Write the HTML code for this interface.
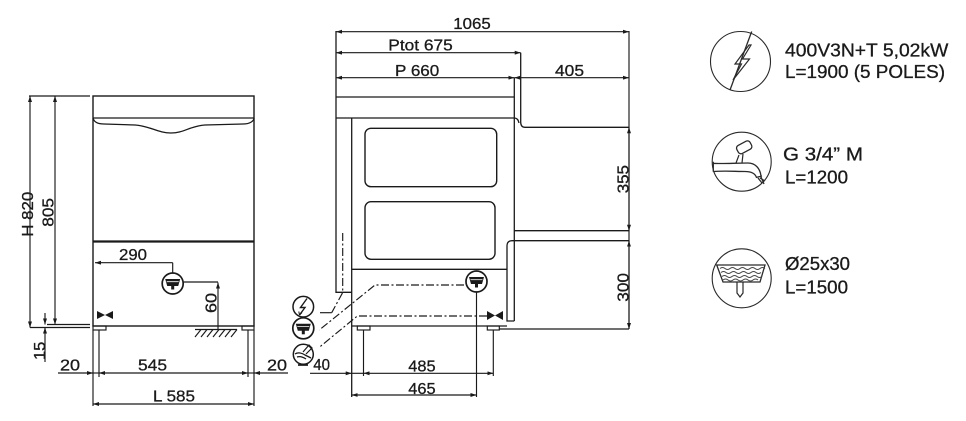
<!DOCTYPE html>
<html><head><meta charset="utf-8"><style>
html,body{margin:0;padding:0;background:#fff;}
svg{display:block;}
text{font-family:"Liberation Sans",Arial,sans-serif;fill:#1a1a1a;stroke:#1a1a1a;stroke-width:0.3;font-size:16px;}
</style></head><body>
<svg width="966" height="421" viewBox="0 0 966 421" xmlns="http://www.w3.org/2000/svg">
<defs>
<marker id="a" viewBox="0 0 6 4" refX="6" refY="2" markerWidth="6" markerHeight="4" markerUnits="userSpaceOnUse" orient="auto-start-reverse"><path d="M0,0 L6,2 L0,4 z" fill="#1a1a1a"/></marker>
<symbol id="dr" viewBox="-12 -12 24 24">
<circle cx="0" cy="0" r="10.5" fill="#fff" stroke="#1a1a1a" stroke-width="1.7"/>
<path d="M-7.5,-4.5 H7.5 L5.5,2.5 H-5.5 Z" fill="#1a1a1a"/>
<path d="M-6,-1.8 H6" stroke="#fff" stroke-width="0.8"/>
<rect x="-1.5" y="2" width="3" height="4" fill="#1a1a1a"/>
</symbol>
</defs>
<g stroke="#1a1a1a" fill="none" stroke-width="1.15">
<!-- LEFT VIEW -->
<rect x="93" y="96" width="161" height="230" stroke-width="1.4"/>
<line x1="93" y1="118" x2="254" y2="118" stroke-width="1.3"/>
<path d="M93,118 C94,122 98,124 104,124 L135,125 C150,126 158,133 171,133 C184,133 190,126 205,125 L243,124 C250,124 254,121 254,118" stroke-width="1.3"/>
<line x1="93" y1="241.5" x2="254" y2="241.5" stroke-width="2.2"/>
<line x1="172.7" y1="262.7" x2="95" y2="262.7" marker-end="url(#a)"/>
<line x1="172.7" y1="262.7" x2="172.7" y2="272.5"/>
<path d="M184,282 H218"/>
<line x1="218" y1="329" x2="218" y2="282.5" marker-end="url(#a)"/>
<line x1="195" y1="329.5" x2="237" y2="329.5"/>
<path d="M195,337 L201,329.5 M201,337 L207,329.5 M207,337 L213,329.5 M213,337 L219,329.5 M219,337 L225,329.5 M225,337 L231,329.5 M231,337 L237,329.5"/>
<path d="M97,311 L105,315 L97,319 Z M113,311 L105,315 L113,319 Z" fill="#1a1a1a" stroke="none"/>
<rect x="93" y="326" width="13" height="4"/>
<rect x="242" y="326" width="12" height="4"/>
<line x1="99" y1="330" x2="99" y2="377"/>
<line x1="248" y1="330" x2="248" y2="377"/>
<line x1="93" y1="330" x2="93" y2="406"/>
<line x1="254" y1="330" x2="254" y2="406"/>
<line x1="58" y1="373" x2="93" y2="373" marker-end="url(#a)"/>
<line x1="93" y1="373" x2="99" y2="373"/>
<line x1="99" y1="373" x2="248" y2="373" marker-start="url(#a)" marker-end="url(#a)"/>
<line x1="288" y1="373" x2="254" y2="373" marker-end="url(#a)"/>
<line x1="248" y1="373" x2="254" y2="373"/>
<line x1="93" y1="404" x2="254" y2="404" marker-start="url(#a)" marker-end="url(#a)"/>
<line x1="30" y1="96" x2="30" y2="327.5" marker-start="url(#a)" marker-end="url(#a)"/>
<line x1="55" y1="96" x2="55" y2="324.5" marker-start="url(#a)" marker-end="url(#a)"/>
<line x1="29" y1="96" x2="90" y2="96"/>
<line x1="30" y1="327.5" x2="90" y2="327.5"/>
<line x1="47" y1="324.5" x2="90" y2="324.5"/>
<line x1="45" y1="313" x2="45" y2="324.5" marker-end="url(#a)"/>
<line x1="45" y1="362" x2="45" y2="327.5" marker-end="url(#a)"/>

<!-- MIDDLE VIEW -->
<path d="M336,31 V292.3 H351.7" stroke-width="1.3"/>
<line x1="351.7" y1="118" x2="351.7" y2="397" stroke-width="1.3"/>
<line x1="336" y1="97" x2="514.3" y2="97" stroke-width="1.3"/>
<path d="M336,118 H514.3 Q518,118 519,123" stroke-width="1.3"/>
<path d="M520.7,52.7 V122 Q520.7,127.3 525,127.3 H629" stroke-width="1.3"/>
<line x1="514.3" y1="78" x2="514.3" y2="321" stroke-width="1.3"/>
<line x1="629" y1="31" x2="629" y2="329"/>
<line x1="514.3" y1="230.7" x2="629" y2="230.7" stroke-width="1.3"/>
<path d="M629,240.7 H512 Q507,240.7 507,246 V321 H514.3" stroke-width="1.3"/>
<line x1="351.7" y1="269.3" x2="507" y2="269.3" stroke-width="1.3"/>
<line x1="351.7" y1="326" x2="507" y2="326" stroke-width="1.3"/>
<line x1="499" y1="329" x2="629" y2="329"/>
<rect x="365" y="128.3" width="131.7" height="58.4" rx="6" stroke-width="1.4"/>
<rect x="365" y="201.7" width="130" height="57.6" rx="6" stroke-width="1.4"/>
<rect x="357.3" y="326" width="12.7" height="4"/>
<rect x="487.3" y="326" width="12" height="4"/>
<line x1="363.5" y1="330" x2="363.5" y2="376"/>
<line x1="493.3" y1="330" x2="493.3" y2="376"/>
<line x1="476.5" y1="292.5" x2="476.5" y2="397"/>
<line x1="310" y1="373.3" x2="351.7" y2="373.3" marker-end="url(#a)"/>
<line x1="351.7" y1="373.3" x2="363.5" y2="373.3"/>
<line x1="363.5" y1="373.3" x2="493.3" y2="373.3" marker-start="url(#a)" marker-end="url(#a)"/>
<line x1="351.7" y1="395" x2="476.5" y2="395" marker-start="url(#a)" marker-end="url(#a)"/>
<line x1="336" y1="31.7" x2="629" y2="31.7" marker-start="url(#a)" marker-end="url(#a)"/>
<line x1="336" y1="52.7" x2="520.7" y2="52.7" marker-start="url(#a)" marker-end="url(#a)"/>
<line x1="336" y1="77.7" x2="514.3" y2="77.7" marker-start="url(#a)" marker-end="url(#a)"/>
<line x1="514.3" y1="77.7" x2="629" y2="77.7" marker-start="url(#a)" marker-end="url(#a)"/>
<line x1="629" y1="127.3" x2="629" y2="230.7" marker-start="url(#a)" marker-end="url(#a)"/>
<line x1="629" y1="240.7" x2="629" y2="329" marker-start="url(#a)" marker-end="url(#a)"/>
<!-- dashed connection lines -->
<g stroke-dasharray="8 2.5 2 2.5">
<path d="M342.7,233 V292.5 L331.7,312.7"/>
<path d="M464,285 H375 L319.3,330"/>
<path d="M487,316 H357.3 L319.3,347.3"/>
</g>
<line x1="331.7" y1="312.7" x2="320" y2="312.7"/>
<path d="M487,311 L495,315.5 L487,320 Z M503,311 L495,315.5 L503,320 Z" fill="#1a1a1a" stroke="none"/>

<!-- small icons -->
<circle cx="303.3" cy="306.7" r="10.3" stroke-width="1.5"/>
<path d="M307,298.5 L300.5,307.5 L305,307.5 L299.5,315" stroke-width="1.4"/>
<path d="M299.5,315 L298.8,311.5 M299.5,315 L302,312.5" stroke-width="1"/>
<circle cx="303.3" cy="354.3" r="10" stroke-width="1.5"/>
<path d="M295,354 C298,352 302,353 305,355 L311,358 M297,357 C300,356 303,357 306,359" stroke-width="1.3"/>
<path d="M303,352 L309,345 L312,348 L306,354" stroke-width="1.2"/>
<line x1="298" y1="365" x2="308" y2="365" stroke-width="1.7"/>

<!-- LEGEND -->
<g stroke="#2a2a2a" stroke-width="1.1">
<circle cx="740.5" cy="61.5" r="30"/>
<line x1="751.7" y1="31.5" x2="730" y2="90" stroke-width="1.3"/>
<path d="M749,45 L735,64 L741.5,64 L733,80 L749.5,59 L742.5,59 L751,45 Z" stroke-width="1.2"/>
<circle cx="741.7" cy="161.7" r="29.5"/>
<path d="M713.3,161.7 V171.7 M713.3,163.3 C722,164 735,163 748,163 C755,163 760,168 761,176 M713.3,171.7 C722,170.5 735,171.5 745,171.5 C750,171.5 755,173 756.5,177.5 M756,177.5 L762,176" stroke-width="1.3"/>
<path d="M736,163 L739,155 M742,163 L743,154" stroke-width="1.2"/>
<rect x="737" y="143" width="15" height="9" rx="3" transform="rotate(-28 744 148)" stroke-width="1.3"/>
<path d="M758,178 L762,183 M760,178 L765,181 M761,177 L764,184" stroke-width="1.3"/>
<circle cx="741.7" cy="278.3" r="29.5"/>
<path d="M716.7,265 H765 L760,282 H723 Z" stroke-width="1.3"/>
<path d="M737,282 V293 L740,297 L743,293 V282" stroke-width="1.2"/>
<path d="M720,268.5 q2.5,-2 5,0 t5,0 t5,0 t5,0 t5,0 t5,0 t5,0 t5,0 t5,0 M721,272.5 q2.5,-2 5,0 t5,0 t5,0 t5,0 t5,0 t5,0 t5,0 t5,0 M722,276.5 q2.5,-2 5,0 t5,0 t5,0 t5,0 t5,0 t5,0 t5,0 t5,0 M723,280 q2.5,-2 5,0 t5,0 t5,0 t5,0 t5,0 t5,0 t5,0" stroke="#444" stroke-width="1"/>
</g>
</g>

<use href="#dr" x="160.7" y="271.5" width="24" height="24"/>
<use href="#dr" x="464.5" y="269.5" width="24" height="24"/>
<use href="#dr" x="291.3" y="316.3" width="24" height="24"/>

<!-- TEXT -->
<g>
<text x="453.3" y="29" textLength="37.4" lengthAdjust="spacingAndGlyphs">1065</text>
<text x="388.3" y="50.7" textLength="64.4" lengthAdjust="spacingAndGlyphs">Ptot 675</text>
<text x="395" y="76" textLength="44.3" lengthAdjust="spacingAndGlyphs">P 660</text>
<text x="555" y="76" textLength="29" lengthAdjust="spacingAndGlyphs">405</text>
<text x="119" y="260" textLength="28" lengthAdjust="spacingAndGlyphs">290</text>
<text x="60" y="370.7" textLength="20" lengthAdjust="spacingAndGlyphs">20</text>
<text x="138" y="370.7" textLength="29" lengthAdjust="spacingAndGlyphs">545</text>
<text x="267" y="370.7" textLength="20" lengthAdjust="spacingAndGlyphs">20</text>
<text x="153" y="401.7" textLength="42" lengthAdjust="spacingAndGlyphs">L 585</text>
<text x="408.3" y="371.7" textLength="27.4" lengthAdjust="spacingAndGlyphs">485</text>
<text x="408.3" y="394" textLength="27.4" lengthAdjust="spacingAndGlyphs">465</text>
<text x="313.3" y="370" textLength="16.7" lengthAdjust="spacingAndGlyphs">40</text>
<text transform="translate(33,236.7) rotate(-90)" textLength="45" lengthAdjust="spacingAndGlyphs">H 820</text>
<text transform="translate(53.3,226.7) rotate(-90)" textLength="28.7" lengthAdjust="spacingAndGlyphs">805</text>
<text transform="translate(45,360) rotate(-90)" textLength="18.3" lengthAdjust="spacingAndGlyphs">15</text>
<text transform="translate(216.7,313) rotate(-90)" textLength="20" lengthAdjust="spacingAndGlyphs">60</text>
<text transform="translate(628.3,193.3) rotate(-90)" textLength="28.3" lengthAdjust="spacingAndGlyphs">355</text>
<text transform="translate(628.3,301.7) rotate(-90)" textLength="28.7" lengthAdjust="spacingAndGlyphs">300</text>
<text x="785" y="56.3" style="font-size:18px" textLength="163.3" lengthAdjust="spacingAndGlyphs">400V3N+T 5,02kW</text>
<text x="785" y="78" style="font-size:18px" textLength="160" lengthAdjust="spacingAndGlyphs">L=1900 (5 POLES)</text>
<text x="783" y="160.7" style="font-size:18px" textLength="80" lengthAdjust="spacingAndGlyphs">G 3/4” M</text>
<text x="785" y="183.3" style="font-size:18px" textLength="63" lengthAdjust="spacingAndGlyphs">L=1200</text>
<text x="785" y="270" style="font-size:18px" textLength="65" lengthAdjust="spacingAndGlyphs">Ø25x30</text>
<text x="785" y="293.3" style="font-size:18px" textLength="63" lengthAdjust="spacingAndGlyphs">L=1500</text>
</g>
</svg>
</body></html>
